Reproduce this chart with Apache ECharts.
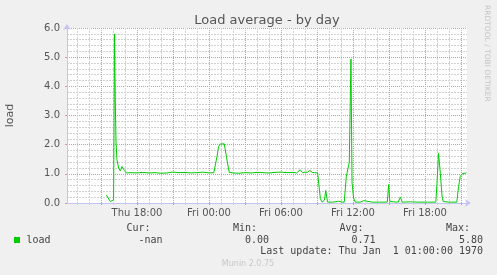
<!DOCTYPE html>
<html><head><meta charset="utf-8">
<script src="https://cdn.jsdelivr.net/npm/echarts@6/dist/echarts.min.js"></script>
<style>html,body{margin:0;padding:0;background:#f0f0f0}#c{width:497px;height:275px}</style>
</head><body><div id="c"></div>
<script>
// time in hours since Thu 00:00
const hours = [15.44,15.78,15.92,16.05,16.13,16.19,16.25,16.33,16.47,16.61,16.75,16.83,16.94,17.11,
  17.5,18.0,18.5,19.0,19.5,20.0,20.5,21.0,21.5,22.0,22.5,23.0,23.5,24.0,24.4,24.54,24.67,24.8,24.94,25.27,25.36,25.53,25.69,
  26.0,26.5,27.0,27.5,28.0,28.5,29.0,29.5,30.0,30.5,31.0,31.3,31.6,31.8,32.0,32.2,32.4,32.6,32.8,33.05,
  33.28,33.42,33.62,33.73,33.88,34.3,34.8,35.1,35.27,35.44,35.69,35.83,35.92,36.05,36.19,36.6,36.88,37.02,37.6,38.2,38.86,38.97,39.07,
  39.77,39.94,40.11,40.8,41.5,42.2,42.9,43.0,43.13,43.28,43.42,43.52,44.0,44.65,44.8,44.94,45.08,45.19,45.45];
const loads = [0.28,0.05,0.08,0.11,5.80,3.5,2.1,1.48,1.2,1.1,1.25,1.31,1.12,1.03,
  1.04,1.03,1.05,1.03,1.04,1.02,1.03,1.06,1.04,1.05,1.03,1.04,1.06,1.03,1.04,1.03,1.6,1.94,2.02,2.03,2.0,1.4,1.05,
  1.03,1.02,1.04,1.03,1.05,1.04,1.03,1.05,1.06,1.04,1.05,1.03,1.14,1.04,1.06,1.05,1.12,1.05,1.04,1.03,
  0.15,0.03,0.1,0.43,0.03,0.03,0.06,0.03,0.03,0.9,1.4,4.94,0.7,0.17,0.03,0.03,0.08,0.02,0.03,0.03,0.03,0.63,0.05,
  0.03,0.2,0.03,0.04,0.03,0.03,0.03,0.69,1.7,1.0,0.24,0.05,0.03,0.03,0.57,0.91,1.0,1.03,1.03];
const xMin = 12 + 10/60, xMax = 45.5;
const labelHours = [18,24,30,36,42];
const labelTexts = ['Thu 18:00','Fri 00:00','Fri 06:00','Fri 12:00','Fri 18:00'];
const yMajor = [0,1,2,3,4,5,6];
const majorHours = []; for (let h = 15; h <= 45; h += 3) majorHours.push(h);
const minorHours = []; for (let h = 13; h <= 45; h++) if (h % 3 !== 0) minorHours.push(h);
const yMinor = []; for (let k = 1; k < 30; k++) if (k % 5 !== 0) yMinor.push(k / 5);
const legendName = 'load';
const statHeads = ['Cur:','Min:','Avg:','Max:'];
const statVals = ['-nan','0.00','0.71','5.80'];
const lastUpdate = 'Last update: Thu Jan  1 01:00:00 1970';

const GREEN = '#00cc00';
const AXIS = '#c4c4f4';
const MINOR = '#d0d0d0';
const MAJOR = '#e89090';
const TXT = '#555555';
const MONO = '"DejaVu Sans Mono", monospace';
const SANS = '"DejaVu Sans", sans-serif';

const chart = echarts.init(document.getElementById('c'), null, {renderer: 'canvas'});
const data = hours.map((h, i) => [h, loads[i]]);

const gridBox = {left: 67, right: 30, top: 28, height: 175};
const monoText = (txt, x, y, align) => ({type: 'text', x: x, y: y,
  style: {text: txt, fill: '#444', font: '10px ' + MONO, textAlign: align || 'left', textVerticalAlign: 'middle'}});

const option = {
  backgroundColor: '#f0f0f0',
  animation: false,
  title: {text: 'Load average - by day', left: 262, top: 9, textAlign: 'center',
    textStyle: {fontFamily: SANS, fontSize: 13, fontWeight: 'normal', color: TXT}},
  grid: Object.assign({backgroundColor: '#ffffff', show: true, borderWidth: 0, containLabel: false, outerBoundsMode: 'none'}, gridBox),
  xAxis: [
    {type: 'value', min: xMin, max: xMax, position: 'bottom',
      axisLine: {show: true, lineStyle: {color: AXIS, width: 1}, symbol: ['none', 'arrow'], symbolSize: [6, 6], symbolOffset: [0, 4]},
      axisTick: {show: true, length: 2, customValues: minorHours, lineStyle: {color: MINOR}},
      axisLabel: {show: false},
      splitLine: {show: true, lineStyle: {color: MINOR, type: [2, 1], width: 1}}},
    {type: 'value', min: xMin, max: xMax, position: 'bottom',
      axisLine: {show: false},
      axisTick: {show: true, length: 2, customValues: majorHours, lineStyle: {color: MAJOR}},
      axisLabel: {show: false},
      splitLine: {show: true, lineStyle: {color: MAJOR, type: [1, 1], width: 1}}},
    {type: 'value', min: xMin, max: xMax, position: 'bottom',
      axisLine: {show: false}, axisTick: {show: false}, splitLine: {show: false},
      axisLabel: {show: true, customValues: labelHours, margin: 5, color: TXT, fontFamily: SANS, fontSize: 10,
        formatter: v => labelTexts[labelHours.indexOf(Math.round(v))]}}
  ],
  yAxis: [
    {type: 'value', min: 0, max: 6, position: 'left',
      axisLine: {show: true, lineStyle: {color: AXIS, width: 1}, symbol: ['none', 'arrow'], symbolSize: [6, 6], symbolOffset: [0, 4]},
      axisTick: {show: false, customValues: yMinor}, axisLabel: {show: false},
      splitLine: {show: true, lineStyle: {color: MINOR, type: [2, 1], width: 1}}},
    {type: 'value', min: 0, max: 6, position: 'left',
      name: legendName, nameLocation: 'middle', nameGap: 51, nameRotate: 90,
      nameTextStyle: {color: TXT, fontFamily: SANS, fontSize: 11},
      axisLine: {show: false}, axisTick: {show: true, length: 2, customValues: yMajor, lineStyle: {color: MAJOR}},
      axisLabel: {show: true, customValues: yMajor, margin: 7, color: TXT, fontFamily: SANS, fontSize: 10, formatter: v => v.toFixed(1)},
      splitLine: {show: true, lineStyle: {color: MAJOR, type: [1, 1], width: 1}}}
  ],
  series: [{type: 'line', name: legendName, xAxisIndex: 0, yAxisIndex: 0, data: data,
    showSymbol: false, symbol: 'none', lineStyle: {color: GREEN, width: 1}, itemStyle: {color: GREEN}, z: 10}],
  graphic: [
    {type: 'text', x: 487, y: 5, rotation: -Math.PI / 2,
      style: {text: 'RRDTOOL / TOBI OETIKER', fill: '#c4c4c4', font: '7.5px ' + SANS, textAlign: 'left', textVerticalAlign: 'middle'}},
    {type: 'rect', shape: {x: 14, y: 237, width: 6, height: 6}, style: {fill: GREEN}},
    monoText(legendName, 26.5, 240),
    monoText(statHeads[0], 150.5, 228, 'right'),
    monoText(statHeads[1], 257, 228, 'right'),
    monoText(statHeads[2], 363.5, 228, 'right'),
    monoText(statHeads[3], 470, 228, 'right'),
    monoText(statVals[0], 162.5, 240, 'right'),
    monoText(statVals[1], 269, 240, 'right'),
    monoText(statVals[2], 375.5, 240, 'right'),
    monoText(statVals[3], 483, 240, 'right'),
    monoText(lastUpdate, 483, 251.5, 'right'),
    {type: 'text', x: 248, y: 264, style: {text: 'Munin 2.0.75', fill: '#c8c8c8', font: '8px ' + SANS, textAlign: 'center', textVerticalAlign: 'middle'}}
  ]
};
chart.setOption(option);
</script></body></html>
